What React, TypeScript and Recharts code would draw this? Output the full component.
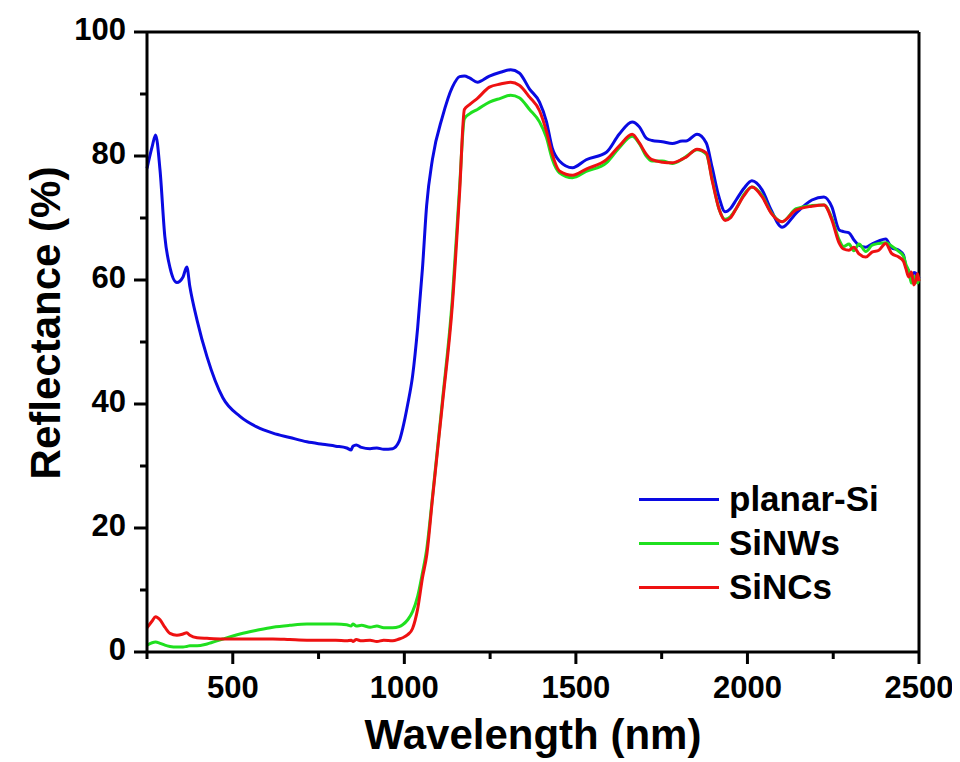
// Reflectance spectra of planar Si, Si nanowires and Si nanocones (Recharts)
import { LineChart, Line, XAxis, YAxis, ReferenceLine, Legend } from "recharts";

const wavelength = [
  250, 265, 275, 288, 302, 317, 337, 355, 366, 375, 396, 425, 471, 521, 570, 617, 666, 716, 762, 800,
  832, 845, 850, 860, 875, 900, 920, 940, 966, 985, 995, 1010, 1024, 1039, 1053, 1065, 1082, 1111, 1140, 1161,
  1175, 1190, 1213, 1248, 1280, 1310, 1335, 1365, 1394, 1414, 1431, 1452, 1490, 1530, 1589, 1626, 1664, 1685, 1705, 1722,
  1752, 1781, 1810, 1821, 1853, 1880, 1897, 1917, 1935, 1950, 1967, 1990, 2013, 2043, 2069, 2101, 2142, 2188, 2223, 2246,
  2267, 2280, 2296, 2310, 2325, 2345, 2363, 2383, 2403, 2420, 2441, 2455, 2462, 2470, 2478, 2485, 2491, 2496, 2500,
];

const planarSi = [
  78, 81.5, 83.4, 77.7, 67, 62, 59.6, 60.5, 62.1, 58.9, 53.5, 47.6, 41, 38, 36.3, 35.3, 34.6, 33.9, 33.5, 33.2,
  32.9, 32.6, 33.2, 33.4, 33.0, 32.8, 32.9, 32.7, 32.8, 34, 36, 40, 44.5, 52.4, 62, 72, 79.5, 86.3, 91.1, 92.8,
  92.9, 92.6, 91.9, 92.9, 93.5, 93.9, 93.4, 90.8, 88.7, 85.6, 81.3, 79.2, 78.1, 79.4, 80.6, 83.5, 85.5, 84.7, 82.9, 82.5,
  82.3, 82.0, 82.4, 82.4, 83.5, 82.1, 78.2, 73.4, 71, 71.5, 72.9, 74.8, 76, 74.5, 71.3, 68.5, 70.8, 72.9, 73.4, 71.8,
  68.1, 67.8, 67.6, 66.5, 65.6, 65.3, 65.8, 66.3, 66.6, 65.2, 64.8, 64.0, 62.1, 61.5, 60.4, 61.2, 61.1, 60.0, 60.5,
];

const siNWs = [
  1.1, 1.5, 1.6, 1.4, 1.1, 0.9, 0.8, 0.8, 0.9, 1.0, 1.0, 1.3, 2.1, 2.9, 3.5, 4.0, 4.3, 4.5, 4.5, 4.5,
  4.4, 4.2, 4.5, 4.2, 4.3, 4.0, 4.2, 3.9, 3.9, 4.1, 4.4, 5.2, 6.5, 9.0, 12.8, 16.5, 25, 40.5, 57, 75,
  86, 86.8, 87.5, 88.7, 89.3, 89.8, 89.4, 87.5, 85.5, 83, 79.5, 77.3, 76.5, 77.5, 78.9, 81.3, 83.2, 82.0, 80.0, 79.2,
  79.2, 78.8, 79.5, 79.9, 81.0, 80.3, 76.3, 71.5, 69.8, 70.2, 71.5, 73.8, 75, 73.6, 70.9, 69.4, 71.5, 72.0, 72.1, 70.0,
  66.5, 65.4, 65.8, 64.7, 65.8, 64.6, 65.6, 65.9, 66.0, 65.5, 64.6, 63.8, 62.5, 61.5, 59.5, 60.6, 60.1, 59.5, 60.2,
];

const siNCs = [
  3.9, 5.0, 5.7, 5.2, 4.0, 3.0, 2.7, 2.9, 3.1, 2.7, 2.3, 2.2, 2.1, 2.1, 2.1, 2.1, 2.0, 1.9, 1.9, 1.9,
  1.8, 1.9, 1.7, 2.0, 1.8, 1.9, 1.7, 1.9, 1.8, 2.1, 2.3, 2.8, 3.8, 7.0, 12.0, 15.5, 24.7, 40, 56, 74,
  87.5, 88.3, 89.3, 91.1, 91.6, 91.9, 91.4, 89.5, 87.3, 84, 80.3, 77.6, 76.9, 77.9, 79.4, 81.6, 83.5, 82.1, 80.3, 79.4,
  79.0, 78.9, 79.5, 79.8, 81.1, 80.5, 76.1, 71.5, 69.6, 70.0, 71.5, 73.6, 75, 73.4, 70.8, 69.4, 71.3, 71.9, 72.1, 69.7,
  66.0, 65.0, 64.8, 65.3, 64.2, 63.7, 64.5, 64.8, 65.9, 64.3, 63.7, 63.0, 61.8, 60.5, 61.3, 59.2, 60, 61.0, 59.8,
];

const xTicks = [250, 500, 750, 1000, 1250, 1500, 1750, 2000, 2250, 2500];
const yTicks = [0, 10, 20, 30, 40, 50, 60, 70, 80, 90, 100];

const series = [
  { key: "planar", name: "planar-Si", color: "#0a0ae2" },
  { key: "nw", name: "SiNWs", color: "#1fe01f" },
  { key: "nc", name: "SiNCs", color: "#ee1111" },
];

const data = wavelength.map((w, i) => ({
  w,
  planar: planarSi[i],
  nw: siNWs[i],
  nc: siNCs[i],
}));

const FONT = '"Liberation Sans", Arial, Helvetica, sans-serif';
const tickFont = { fontFamily: FONT, fontWeight: 700, fontSize: 31, fill: "#000" };
const titleFont = { fontFamily: FONT, fontWeight: 700, fontSize: 42, fill: "#000" };

function XTick(props: any) {
  const { x, y, payload } = props;
  const major = payload.value % 500 === 0;
  return (
    <g>
      <line x1={x} y1={y} x2={x} y2={y + (major ? 12 : 7)} stroke="#000" strokeWidth={3} />
      {major && (
        <text x={x} y={y + 46} textAnchor="middle" {...tickFont}>
          {payload.value}
        </text>
      )}
    </g>
  );
}

function YTick(props: any) {
  const { x, y, payload } = props;
  const major = payload.value % 20 === 0;
  return (
    <g>
      <line x1={x - (major ? 13 : 7)} y1={y} x2={x} y2={y} stroke="#000" strokeWidth={3} />
      {major && (
        <text x={x - 21} y={y + 8} textAnchor="end" {...tickFont}>
          {payload.value}
        </text>
      )}
    </g>
  );
}

// y title sits a bit above the plot's middle in the original
function YTitle() {
  return (
    <text
      x={37}
      y={315}
      transform="rotate(-90, 37, 315)"
      textAnchor="middle"
      dominantBaseline="central"
      {...titleFont}
    >
      Reflectance (%)
    </text>
  );
}

function LegendBox() {
  return (
    <div style={{ fontFamily: FONT, fontWeight: 700, fontSize: 35, color: "#000" }}>
      {series.map((s) => (
        <div key={s.key} style={{ display: "flex", alignItems: "center", height: 44 }}>
          <span style={{ display: "inline-block", width: 80, height: 3, background: s.color, marginRight: 10 }} />
          <span>{s.name}</span>
        </div>
      ))}
    </div>
  );
}

export default function App() {
  return (
    <LineChart width={944} height={754} data={data} margin={{ top: 24, right: 33, bottom: 0, left: 0 }}>
      <XAxis
        dataKey="w"
        type="number"
        domain={[250, 2500]}
        ticks={xTicks}
        tick={<XTick />}
        tickSize={0}
        tickMargin={0}
        tickLine={false}
        axisLine={{ stroke: "#000", strokeWidth: 3 }}
        height={110}
        interval={0}
        label={{
          value: "Wavelength (nm)",
          position: "insideBottom",
          offset: 13,
          style: titleFont,
        }}
      />
      <YAxis
        type="number"
        domain={[0, 100]}
        ticks={yTicks}
        tick={<YTick />}
        tickSize={0}
        tickMargin={0}
        tickLine={false}
        axisLine={{ stroke: "#000", strokeWidth: 3 }}
        width={139}
        interval={0}
        label={{ content: <YTitle /> }}
      />
      <ReferenceLine y={100} stroke="#000" strokeWidth={3} />
      <ReferenceLine x={2500} stroke="#000" strokeWidth={3} />
      {series.map((s) => (
        <Line
          key={s.key}
          type="monotone"
          dataKey={s.key}
          name={s.name}
          stroke={s.color}
          strokeWidth={3}
          dot={false}
          isAnimationActive={false}
        />
      ))}
      <Legend
        layout="horizontal"
        verticalAlign="middle"
        align="center"
        content={<LegendBox />}
        wrapperStyle={{ left: 631, top: 469, width: 270 }}
      />
    </LineChart>
  );
}
